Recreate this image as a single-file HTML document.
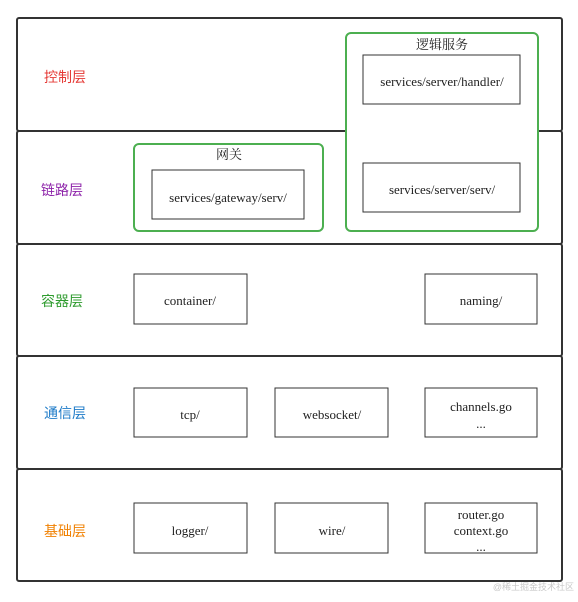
<!DOCTYPE html>
<html><head><meta charset="utf-8"><style>
html,body{margin:0;padding:0;background:#fff;}
svg{display:block;}
.s{font-family:"Liberation Serif","Noto Serif CJK SC",serif;font-size:13px;fill:#222;text-anchor:middle;}
.c{font-family:"Liberation Sans","Noto Sans CJK SC",sans-serif;font-size:14px;text-anchor:middle;}
.b{fill:#fff;stroke:#333;stroke-width:1;}
.r{fill:#fff;stroke:#333;stroke-width:2;}
.g{fill:none;stroke:#4caf50;stroke-width:2;}
</style></head><body>
<svg width="578" height="602" viewBox="0 0 578 602" xmlns="http://www.w3.org/2000/svg">
<rect x="0" y="0" width="578" height="602" fill="#fff"/>
<rect class="r" x="17" y="18" width="545" height="113" rx="2"/>
<rect class="r" x="17" y="131" width="545" height="113" rx="2"/>
<rect class="r" x="17" y="244" width="545" height="112" rx="2"/>
<rect class="r" x="17" y="356" width="545" height="113" rx="2"/>
<rect class="r" x="17" y="469" width="545" height="112" rx="2"/>

<text class="c" x="65" y="82" fill="#e53935">控制层</text>
<text class="c" x="62" y="195" fill="#8e24aa">链路层</text>
<text class="c" x="62" y="306" fill="#2e9b2e">容器层</text>
<text class="c" x="65" y="418" fill="#1e7bc8">通信层</text>
<text class="c" x="65" y="536" fill="#f08000">基础层</text>

<rect class="g" x="346" y="33" width="192" height="198" rx="5" style="fill:#fff"/>
<text class="s" x="442" y="49" style="font-family:'Noto Serif CJK SC',serif;font-size:13px">逻辑服务</text>
<rect class="b" x="363" y="55" width="157" height="49"/>
<text class="s" x="442" y="86">services/server/handler/</text>
<rect class="b" x="363" y="163" width="157" height="49"/>
<text class="s" x="442" y="194">services/server/serv/</text>

<rect class="g" x="134" y="144" width="189" height="87" rx="5"/>
<text class="s" x="229" y="159" style="font-family:'Noto Serif CJK SC',serif;font-size:13px">网关</text>
<rect class="b" x="152" y="170" width="152" height="49"/>
<text class="s" x="228" y="202">services/gateway/serv/</text>

<rect class="b" x="134" y="274" width="113" height="50"/>
<text class="s" x="190" y="305">container/</text>
<rect class="b" x="425" y="274" width="112" height="50"/>
<text class="s" x="481" y="305">naming/</text>

<rect class="b" x="134" y="388" width="113" height="49"/>
<text class="s" x="190" y="419">tcp/</text>
<rect class="b" x="275" y="388" width="113" height="49"/>
<text class="s" x="332" y="419">websocket/</text>
<rect class="b" x="425" y="388" width="112" height="49"/>
<text class="s" x="481" y="411">channels.go</text>
<text class="s" x="481" y="428">...</text>

<rect class="b" x="134" y="503" width="113" height="50"/>
<text class="s" x="190" y="535">logger/</text>
<rect class="b" x="275" y="503" width="113" height="50"/>
<text class="s" x="332" y="535">wire/</text>
<rect class="b" x="425" y="503" width="112" height="50"/>
<text class="s" x="481" y="519">router.go</text>
<text class="s" x="481" y="535">context.go</text>
<text class="s" x="481" y="551">...</text>

<text x="574" y="590" style="font-family:'Liberation Sans','Noto Sans CJK SC',sans-serif;font-size:9px;fill:#c8c8c8;text-anchor:end">@稀土掘金技术社区</text>
</svg>
</body></html>
